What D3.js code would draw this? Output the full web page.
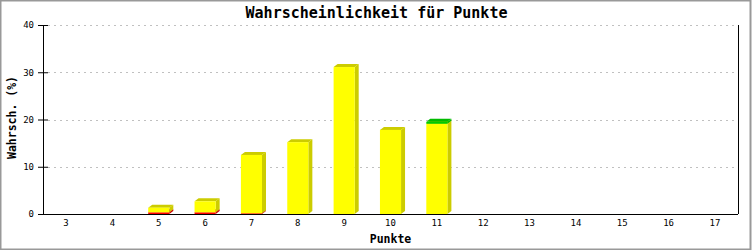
<!DOCTYPE html>
<html>
<head>
<meta charset="utf-8">
<script src="https://cdn.jsdelivr.net/npm/d3@7"></script>
<style>
  body { margin: 0; background: #fff; }
  svg text { font-family: "DejaVu Sans Mono", "Liberation Mono", monospace; }
</style>
</head>
<body>
<svg id="chart"></svg>
<script>
// data
const punkte = ['3','4','5','6','7','8','9','10','11','12','13','14','15','16','17'];
const rot    = [0, 0, 0.35, 0.35, 0.15, 0, 0, 0, 0, 0, 0, 0, 0, 0, 0];
const gelb   = [0, 0, 0.98, 2.34, 12.35, 15.2, 31.1, 17.8, 19.1, 0, 0, 0, 0, 0, 0];
const gruen  = [0, 0, 0, 0, 0, 0, 0, 0, 0.4, 0, 0, 0, 0, 0, 0];
const yTicks = [0, 10, 20, 30, 40];

const width = 753, height = 250;
const margin = {top: 25, right: 15, bottom: 36, left: 43};
const innerW = width - margin.left - margin.right;
const innerH = height - margin.top - margin.bottom;

const svg = d3.select('#chart')
    .attr('width', width)
    .attr('height', height);

// frame
svg.append('rect')
    .attr('x', 0.5).attr('y', 0.5)
    .attr('width', width - 3).attr('height', height - 1)
    .attr('fill', '#fff')
    .attr('stroke', '#999')
    .attr('stroke-width', 2);

const chart = svg.append('g')
    .attr('transform', `translate(${margin.left}, ${margin.top})`);

const xscale = d3.scaleBand()
    .domain(punkte)
    .range([0, innerW])
    .paddingInner(0.545)
    .paddingOuter(0.27);

const yscale = d3.scaleLinear()
    .domain([0, 40])
    .range([innerH, 0]);

// grid
chart.append('g')
    .selectAll('line')
    .data(yTicks.slice(1))
    .join('line')
    .attr('x1', 5).attr('x2', innerW)
    .attr('y1', d => Math.round(yscale(d)) + 0.5)
    .attr('y2', d => Math.round(yscale(d)) + 0.5)
    .attr('stroke', '#c0c0c0')
    .attr('stroke-dasharray', '2,4');

// stacked 3d bars
const series = [
    {values: rot,   front: '#ff0000', side: '#cc0000'},
    {values: gelb,  front: '#ffff00', side: '#cccc00'},
    {values: gruen, front: '#00cc00', side: '#00bb00'}
];
const dx = 4, dy = -3;
const bw = xscale.bandwidth();
const base = punkte.map(() => 0);

const bars = chart.append('g');
series.forEach(s => {
    punkte.forEach((p, i) => {
        const v = s.values[i];
        if (v <= 0) return;
        const x0 = xscale(p), x1 = x0 + bw;
        const yb = yscale(base[i]), yt = yscale(base[i] + v);
        base[i] += v;
        const g = bars.append('g');
        // side
        g.append('path')
            .attr('d', `M${x1},${yt}L${x1 + dx},${yt + dy}L${x1 + dx},${yb + dy}L${x1},${yb}Z`)
            .attr('fill', s.side);
        // top
        g.append('path')
            .attr('d', `M${x0},${yt}L${x0 + dx},${yt + dy}L${x1 + dx},${yt + dy}L${x1},${yt}Z`)
            .attr('fill', s.side);
        // front
        g.append('rect')
            .attr('x', x0).attr('y', yt)
            .attr('width', bw).attr('height', yb - yt)
            .attr('fill', s.front);
    });
});

// axes
const yaxis = d3.axisLeft(yscale)
    .tickValues(yTicks)
    .tickSize(5)
    .tickPadding(5);
const yg = chart.append('g').call(yaxis);
yg.select('.domain').attr('stroke', '#000').attr('d', `M0.5,0V${innerH}`);
yg.selectAll('.tick line').attr('x1', 5);
yg.selectAll('.tick text').style('font-size', '9px').attr('x', -9);

const xaxis = d3.axisBottom(xscale)
    .tickSize(0)
    .tickPadding(6);
const xg = chart.append('g')
    .attr('transform', `translate(0, ${innerH})`)
    .call(xaxis);
xg.select('.domain').attr('d', `M0,0.5H${innerW}`).attr('stroke', '#000');
xg.selectAll('.tick text').style('font-size', '9px');

// right border line
chart.append('line')
    .attr('x1', innerW + 0.5).attr('x2', innerW + 0.5)
    .attr('y1', 0).attr('y2', innerH)
    .attr('stroke', '#000');

// texts
svg.append('text')
    .attr('x', width / 2)
    .attr('y', 18)
    .attr('text-anchor', 'middle')
    .style('font-size', '15px')
    .style('font-weight', 'bold')
    .text('Wahrscheinlichkeit für Punkte');

svg.append('text')
    .attr('x', margin.left + innerW / 2)
    .attr('y', 243)
    .attr('text-anchor', 'middle')
    .style('font-size', '11.5px')
    .style('font-weight', 'bold')
    .text('Punkte');

svg.append('text')
    .attr('transform', 'rotate(-90)')
    .attr('x', -(margin.top + innerH / 2) + 2)
    .attr('y', 16)
    .attr('text-anchor', 'middle')
    .style('font-size', '11.5px')
    .style('font-weight', 'bold')
    .text('Wahrsch. (%)');
</script>
</body>
</html>
